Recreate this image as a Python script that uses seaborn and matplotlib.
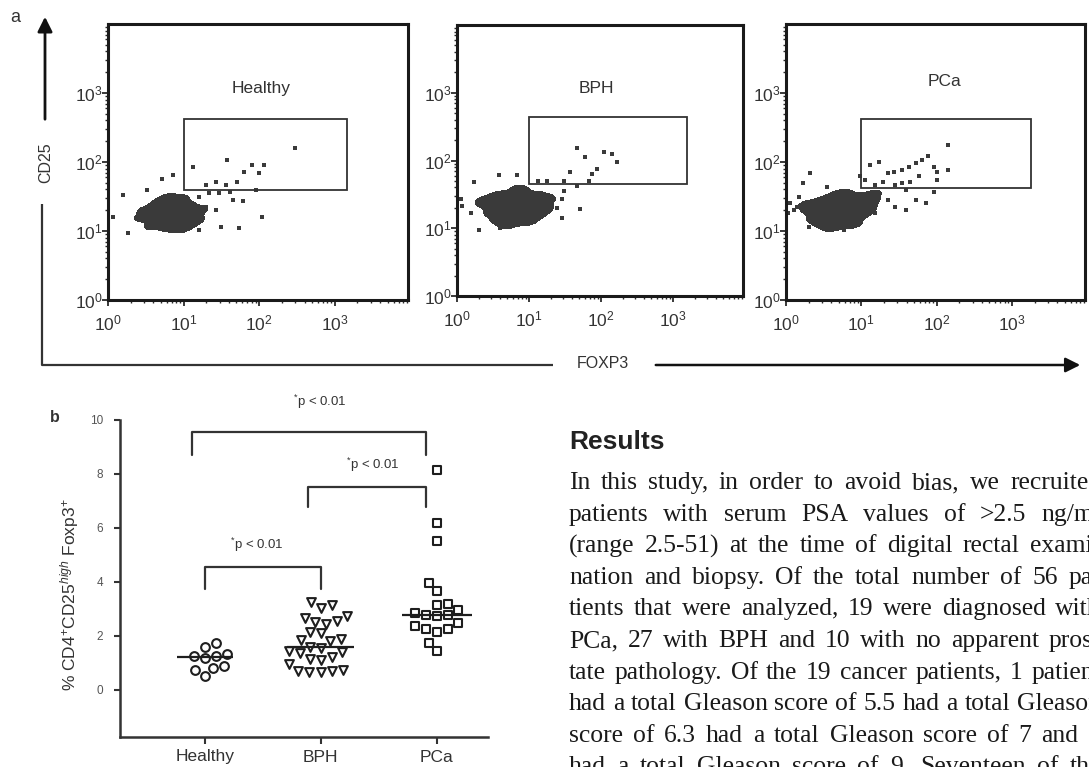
import numpy as np
import pandas as pd
import matplotlib
matplotlib.use("Agg")
import matplotlib.pyplot as plt
import seaborn as sns
from matplotlib.colors import ListedColormap
from matplotlib.patches import Rectangle
from matplotlib.ticker import FixedLocator, LogLocator, NullFormatter, LogFormatterSciNotation

sns.set_style("ticks")
plt.rcParams['font.family'] = ['Liberation Sans', 'DejaVu Sans']
plt.rcParams['mathtext.fontset'] = 'custom'
plt.rcParams['mathtext.rm'] = 'Liberation Sans'
plt.rcParams['mathtext.it'] = 'Liberation Sans:italic'
plt.rcParams['mathtext.bf'] = 'Liberation Sans:bold'

# ---------------- data: panel a (log10 fluorescence) ----------------
flow_panels = ["Healthy", "BPH", "PCa"]

healthy_core_foxp3 = [0.42, 0.48, 0.55, 0.58, 0.62, 0.66, 0.70, 0.72, 0.76, 0.78, 0.80, 0.83, 0.86, 0.88, 0.90, 0.93,
                      0.95, 0.98, 1.00, 1.03, 1.05, 1.08, 1.12, 1.15, 1.20, 0.68, 0.85, 1.00, 0.74, 0.94, 0.52, 1.24]
healthy_core_cd25 = [1.18, 1.30, 1.06, 1.22, 1.38, 1.12, 1.28, 1.45, 1.04, 1.18, 1.36, 1.50, 1.08, 1.25, 1.40, 1.02,
                     1.15, 1.32, 1.48, 1.06, 1.22, 1.38, 1.12, 1.28, 1.18, 1.20, 1.20, 1.22, 1.30, 1.26, 1.24, 1.32]
healthy_sparse_foxp3 = [2.48, 1.58, 1.12, 1.91, 2.07, 2.00, 1.80, 1.71, 1.43, 1.30, 1.56, 1.61, 1.96, 1.47, 1.65,
                        1.78, 2.04, 1.74, 1.50, 1.43, 1.30, 0.86, 0.71, 0.51, 0.20, 0.07, 0.27, 1.21, 1.34, 1.21]
healthy_sparse_cd25 = [2.21, 2.03, 1.93, 1.96, 1.96, 1.84, 1.86, 1.71, 1.71, 1.67, 1.67, 1.57, 1.59, 1.55, 1.45,
                       1.43, 1.21, 1.04, 1.06, 1.30, 1.35, 1.81, 1.76, 1.59, 1.52, 1.21, 0.97, 1.50, 1.55, 1.01]

bph_core_foxp3 = [0.40, 0.45, 0.50, 0.55, 0.58, 0.62, 0.66, 0.70, 0.72, 0.76, 0.80, 0.83, 0.86, 0.90, 0.93, 0.96,
                  1.00, 1.04, 1.08, 1.12, 1.16, 1.20, 1.25, 0.60, 0.75, 0.90, 1.05, 0.68, 0.85, 1.00, 0.35, 1.28]
bph_core_cd25 = [1.35, 1.22, 1.45, 1.12, 1.30, 1.50, 1.20, 1.38, 1.08, 1.28, 1.48, 1.15, 1.36, 1.55, 1.10, 1.25,
                 1.42, 1.18, 1.35, 1.50, 1.22, 1.38, 1.30, 1.40, 1.35, 1.30, 1.30, 1.05, 1.58, 1.12, 1.40, 1.45]
bph_sparse_foxp3 = [1.67, 1.78, 2.04, 2.15, 2.22, 1.94, 1.88, 1.83, 1.57, 1.48, 1.25, 1.13, 1.67, 1.48, 1.46,
                    1.39, 1.46, 1.71, 0.83, 0.58, 0.23, 0.05, 0.07, 0.30, 0.60, 1.02, 1.34, 0.19]
bph_sparse_cd25 = [2.18, 2.05, 2.12, 2.10, 1.98, 1.88, 1.80, 1.70, 1.83, 1.70, 1.70, 1.70, 1.63, 1.55, 1.43,
                   1.30, 1.15, 1.28, 1.78, 1.78, 1.68, 1.43, 1.33, 0.98, 1.00, 1.10, 1.43, 1.23]

pca_core_foxp3 = [0.30, 0.35, 0.40, 0.45, 0.48, 0.52, 0.56, 0.60, 0.63, 0.66, 0.70, 0.73, 0.76, 0.80, 0.83, 0.86,
                  0.90, 0.94, 0.98, 1.02, 1.06, 1.10, 1.15, 0.55, 0.70, 0.85, 1.00, 0.62, 0.78, 0.92, 0.25, 1.18]
pca_core_cd25 = [1.30, 1.18, 1.40, 1.12, 1.28, 1.45, 1.08, 1.22, 1.38, 1.52, 1.15, 1.32, 1.48, 1.10, 1.28, 1.42,
                 1.20, 1.36, 1.50, 1.25, 1.40, 1.32, 1.45, 1.30, 1.25, 1.35, 1.30, 1.05, 1.55, 1.10, 1.38, 1.55]
pca_sparse_foxp3 = [2.15, 1.88, 1.81, 1.72, 1.63, 1.54, 1.43, 1.36, 1.23, 1.11, 1.97, 2.01, 2.15, 2.00, 1.77,
                    1.65, 1.54, 1.45, 1.29, 1.18, 1.05, 0.98, 1.97, 1.59, 1.86, 1.72, 1.59, 1.45, 1.36, 0.32,
                    0.23, 0.17, 0.05, 0.03, 0.30, 0.95, 0.77, 0.55, 1.23, 1.18, 0.14, 0.10]
pca_sparse_cd25 = [2.25, 2.09, 2.03, 1.98, 1.93, 1.88, 1.86, 1.84, 2.00, 1.96, 1.93, 1.86, 1.88, 1.74, 1.79,
                   1.71, 1.69, 1.67, 1.71, 1.67, 1.74, 1.79, 1.56, 1.59, 1.40, 1.45, 1.30, 1.35, 1.45, 1.84,
                   1.69, 1.50, 1.40, 1.26, 1.06, 1.09, 1.01, 1.64, 1.50, 1.26, 1.35, 1.30]

# gate bounds (FOXP3 low/high, CD25 low/high)
gate_foxp3_low = [10, 10, 10]
gate_foxp3_high = [1450, 1550, 1780]
gate_cd25_low = [39, 45, 42]
gate_cd25_high = [420, 437, 417]

# ---------------- data: panel b ----------------
groups = ["Healthy", "BPH", "PCa"]
healthy_vals = [1.72, 1.60, 1.32, 1.26, 1.24, 1.18, 0.90, 0.80, 0.75, 0.52]
bph_vals = [3.25, 3.15, 3.05, 2.75, 2.65, 2.55, 2.50, 2.45, 2.15, 2.10, 1.90, 1.85, 1.80, 1.60,
            1.55, 1.45, 1.40, 1.35, 1.20, 1.15, 1.10, 0.95, 0.75, 0.70, 0.70, 0.65, 0.65]
pca_vals = [8.15, 6.20, 5.50, 3.95, 3.68, 3.17, 3.15, 2.94, 2.86, 2.78, 2.76, 2.72, 2.47, 2.35,
            2.26, 2.24, 2.16, 1.75, 1.45]
yticks_b = [0, 2, 4, 6, 8, 10]
p_label = "$^{*}$p < 0.01"

results_heading = "Results"
results_lines = [
    "In this study, in order to avoid bias, we recruited",
    "patients with serum PSA values of >2.5 ng/ml",
    "(range 2.5-51) at the time of digital rectal exami-",
    "nation and biopsy. Of the total number of 56 pa-",
    "tients that were analyzed, 19 were diagnosed with",
    "PCa, 27 with BPH and 10 with no apparent pros-",
    "tate pathology. Of the 19 cancer patients, 1 patient",
    "had a total Gleason score of 5.5 had a total Gleason",
    "score of 6.3 had a total Gleason score of 7 and 1",
    "had a total Gleason score of 9. Seventeen of the",
]

# ---------------- figure ----------------
W, H = 1089, 767
fig = plt.figure(figsize=(W / 100, H / 100), dpi=100)
fig.patch.set_facecolor('white')

# overlay in pixel coordinates for decorations
ov = fig.add_axes([0, 0, 1, 1], zorder=-5)
ov.set_xlim(0, W)
ov.set_ylim(H, 0)
ov.axis('off')

dark = '#2a2a2a'
dot = '#3a3a3a'

panel_rects = [(108, 24, 408, 300), (457, 25, 743, 296), (786, 24, 1085, 300)]
label_pos = [(107, 1175), (87, 1175), (126, 1445)]
core_x = [healthy_core_foxp3, bph_core_foxp3, pca_core_foxp3]
core_y = [healthy_core_cd25, bph_core_cd25, pca_core_cd25]
sparse_x = [healthy_sparse_foxp3, bph_sparse_foxp3, pca_sparse_foxp3]
sparse_y = [healthy_sparse_cd25, bph_sparse_cd25, pca_sparse_cd25]

for i, name in enumerate(flow_panels):
    l, t, r, b = panel_rects[i]
    ax = fig.add_axes([l / W, (H - b) / H, (r - l) / W, (b - t) / H])
    cx = 10 ** np.array(core_x[i])
    cy = 10 ** np.array(core_y[i])
    sx = 10 ** np.array(sparse_x[i])
    sy = 10 ** np.array(sparse_y[i])
    sns.kdeplot(x=cx, y=cy, ax=ax, fill=True, levels=2, thresh=0.1, bw_adjust=0.65,
                cmap=ListedColormap([dot]), log_scale=True)
    sns.scatterplot(x=np.r_[cx, sx], y=np.r_[cy, sy], ax=ax, marker='s', s=8,
                    color=dot, linewidth=0)
    ax.set_xscale('log')
    ax.set_yscale('log')
    ax.set_xlim(1, 10 ** 3.97)
    ax.set_ylim(1, 10 ** 4.0)
    ax.add_patch(Rectangle((gate_foxp3_low[i], gate_cd25_low[i]),
                           gate_foxp3_high[i] - gate_foxp3_low[i],
                           gate_cd25_high[i] - gate_cd25_low[i],
                           fill=False, lw=1.3, ec='#333333', zorder=3))
    ax.text(label_pos[i][0], label_pos[i][1], name, ha='center', va='center',
            fontsize=12.5, color='#333333')
    for axis in (ax.xaxis, ax.yaxis):
        axis.set_major_locator(FixedLocator([1, 10, 100, 1000]))
        axis.set_major_formatter(LogFormatterSciNotation())
        axis.set_minor_locator(LogLocator(base=10, subs=np.arange(2, 10)))
        axis.set_minor_formatter(NullFormatter())
    ax.tick_params(axis='both', which='major', direction='out', length=4, width=1.3,
                   color=dark, labelsize=12.5, labelcolor='#333333')
    ax.tick_params(axis='both', which='minor', direction='out', length=2.5, width=1.0, color=dark)
    ax.tick_params(axis='x', which='major', pad=6)
    ax.tick_params(axis='y', which='major', pad=0)
    ax.set_xlabel('')
    ax.set_ylabel('')
    for sp in ax.spines.values():
        sp.set_visible(True)
        sp.set_linewidth(2.2)
        sp.set_color('#1a1a1a')

# panel a decorations
ov.text(15, 18, 'a', fontsize=13, ha='center', va='center', color='#333333')
ov.annotate('', xy=(45, 14), xytext=(45, 122),
            arrowprops=dict(arrowstyle='-|>', lw=2.0, color='#111111', mutation_scale=22))
ov.text(46, 163, 'CD25', rotation=90, fontsize=11.5, ha='center', va='center', color='#333333')
ov.plot([42, 42, 553], [204, 365, 365], color='#333333', lw=1.6, solid_capstyle='butt')
ov.text(603, 363, 'FOXP3', fontsize=11.5, ha='center', va='center', color='#333333')
ov.annotate('', xy=(1083, 365), xytext=(653, 365),
            arrowprops=dict(arrowstyle='-|>', lw=1.8, color='#111111', mutation_scale=22))

# ---------------- panel b ----------------
df = pd.DataFrame({
    "group": ["Healthy"] * len(healthy_vals) + ["BPH"] * len(bph_vals) + ["PCa"] * len(pca_vals),
    "value": healthy_vals + bph_vals + pca_vals,
})
axb = fig.add_axes([120 / W, (H - 737) / H, 368 / W, 317 / H])
markers = ['o', 'v', 's']
for g, m in zip(groups, markers):
    sns.swarmplot(data=df[df.group == g], x="group", y="value", order=groups, marker=m,
                  size=6.3, color='white', edgecolor='#1e1e1e', linewidth=1.5, ax=axb, zorder=3)
for g, w in zip(groups, [0.48, 0.58, 0.60]):
    sns.boxplot(data=df[df.group == g], x="group", y="value", order=groups, width=w,
                showbox=False, showcaps=False, showfliers=False, whis=0,
                whiskerprops=dict(visible=False),
                medianprops=dict(color='#1e1e1e', lw=1.6, zorder=4), ax=axb)

axb.set_xlim(-0.73, 2.44)
axb.set_ylim(-1.75, 10)
axb.set_yticks(yticks_b)
axb.set_xlabel('')
axb.set_ylabel('% CD4$^{+}$CD25$^{high}$ Foxp3$^{+}$', fontsize=12.5, color='#333333')
axb.yaxis.set_label_coords(-0.105, 0.45)
sns.despine(ax=axb)
for sp in ['left', 'bottom']:
    axb.spines[sp].set_linewidth(1.8)
    axb.spines[sp].set_color('#333333')
axb.tick_params(axis='y', direction='out', length=4, width=1.5, color='#333333',
                labelsize=8.5, labelcolor='#555555', pad=8)
axb.tick_params(axis='x', direction='out', length=5, width=1.5, color='#333333',
                labelsize=12.5, labelcolor='#333333', pad=4)

# significance brackets
bracket_x = [(0.0, 1.0), (0.89, 1.905), (-0.11, 1.905)]
bracket_top = [4.54, 7.53, 9.54]
bracket_bottom = [3.74, 6.79, 8.70]
label_xy = [(0.45, 5.37), (1.45, 8.33), (0.99, 10.68)]
for (x0, x1), yt, yb, (lx, ly) in zip(bracket_x, bracket_top, bracket_bottom, label_xy):
    axb.plot([x0, x0, x1, x1], [yb, yt, yt, yb], color='#333333', lw=1.6, clip_on=False)
    axb.text(lx, ly, p_label, ha='center', va='center', fontsize=9.5, color='#333333', clip_on=False)

ov.text(55, 417, 'b', fontsize=11.5, fontweight='bold', ha='center', va='center', color='#333333')

# ---------------- Results text ----------------
ov.text(569, 442, results_heading, fontsize=19, fontweight='bold', ha='left', va='center',
        color='#222222', family=['Liberation Sans', 'DejaVu Sans'])

renderer = fig.canvas.get_renderer()
serif = ['Liberation Serif', 'DejaVu Serif']
x_left, x_right = 569, 1101
probe_w = []
for line in results_lines:
    tp = ov.text(0, 0, line, fontsize=10, family=serif)
    probe_w.append(tp.get_window_extent(renderer).width)
    tp.remove()
body_fs = 10 * (x_right - x_left) / max(probe_w) * 0.995

base0, dy = 489, 31.6
for li, line in enumerate(results_lines):
    words = line.split(' ')
    ybase = base0 + li * dy
    txts, widths = [], []
    for wd in words:
        t = ov.text(0, ybase, wd, fontsize=body_fs, family=serif, ha='left', va='baseline',
                    color='#1a1a1a')
        widths.append(t.get_window_extent(renderer).width)
        txts.append(t)
    gap = (x_right - x_left - sum(widths)) / max(len(words) - 1, 1)
    x = x_left
    for t, wdt in zip(txts, widths):
        t.set_x(x)
        x += wdt + gap

fig.savefig('out.png', dpi=100)
